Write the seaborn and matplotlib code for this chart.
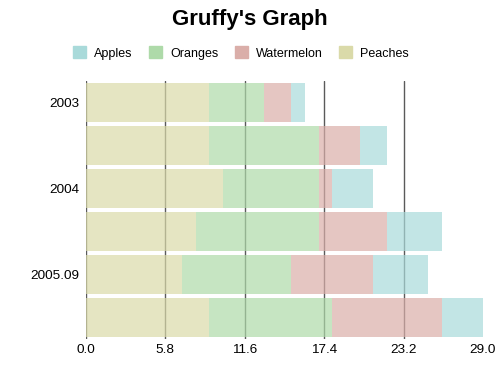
import matplotlib
matplotlib.use("Agg")
import matplotlib.pyplot as plt
import numpy as np
import seaborn as sns

# data
series_names = ["Apples", "Oranges", "Watermelon", "Peaches"]
apples = [1, 2, 3, 4, 4, 3]
oranges = [4, 8, 7, 9, 8, 9]
watermelon = [2, 3, 1, 5, 6, 8]
peaches = [9, 9, 10, 8, 7, 9]
row_labels = {0: "2003", 2: "2004", 4: "2005.09"}
colors = {"Apples": "#a9dada", "Oranges": "#aedaa9",
          "Watermelon": "#daaea9", "Peaches": "#dadaa9"}

sns.set_theme(style="white")
plt.rcParams["font.family"] = ["Liberation Sans", "DejaVu Sans"]
plt.rcParams["text.color"] = "black"

fig = plt.figure(figsize=(5, 3.75), dpi=100)
ax = fig.add_axes([86 / 500, 1 - 338.5 / 375, 397 / 500, 257.5 / 375])

values = {"Apples": apples, "Oranges": oranges,
          "Watermelon": watermelon, "Peaches": peaches}
ypos = np.arange(len(apples))

# gridlines first, bars are see-through on top of them
ticks = np.linspace(0, 29, 6)
for t in ticks[:-1]:
    ax.axvline(t, color="#5a5a5a", linewidth=1.0, zorder=0)

# stacking order: peaches at the left, apples at the end
left = np.zeros(len(apples))
for name in ["Peaches", "Oranges", "Watermelon", "Apples"]:
    vals = np.array(values[name], dtype=float)
    ax.barh(ypos, vals, left=left, height=0.91, color=colors[name],
            alpha=0.7, linewidth=0, zorder=2)
    left += vals

ax.set_xlim(0, 29)
ax.set_ylim(5.5, -0.5)
ax.set_xticks(ticks)
ax.set_xticklabels(["%.1f" % t for t in ticks])
ax.set_yticks(list(row_labels.keys()))
ax.set_yticklabels(list(row_labels.values()))
ax.tick_params(axis="both", length=0, labelsize=9.7, colors="black")
ax.tick_params(axis="y", pad=5)
ax.tick_params(axis="x", pad=4)
for s in ax.spines.values():
    s.set_visible(False)

fig.suptitle("Gruffy's Graph", fontsize=16, fontweight="bold", color="black",
             y=1 - 20 / 375, va="center")

handles = [plt.Rectangle((0, 0), 1, 1, color=colors[n]) for n in series_names]
fig.legend(handles, series_names, loc="center", ncol=4,
           bbox_to_anchor=(0.482, 1 - 53 / 375), frameon=False, fontsize=9,
           handlelength=1.05, handleheight=1.05, handletextpad=0.65,
           columnspacing=1.3)

fig.savefig("out.png", dpi=100)
